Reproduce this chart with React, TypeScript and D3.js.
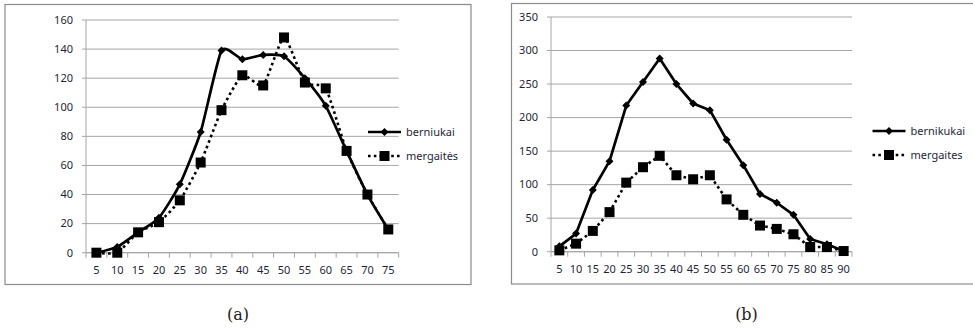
import React from "react";
import * as d3 from "d3";

// Chart (a)
const categoriesA = ["5","10","15","20","25","30","35","40","45","50","55","60","65","70","75"];
const boysA = [0, 4, 14, 24, 47, 83, 139, 133, 136, 135, 120, 101, 70, 40, 16];
const girlsA = [0, 0, 14, 21, 36, 62, 98, 122, 115, 148, 117, 113, 70, 40, 16];
const yTicksA = [0, 20, 40, 60, 80, 100, 120, 140, 160];
const legendA = ["berniukai", "mergaitės"];

// Chart (b)
const categoriesB = ["5","10","15","20","25","30","35","40","45","50","55","60","65","70","75","80","85","90"];
const boysB = [8, 27, 92, 135, 218, 253, 288, 250, 221, 211, 167, 129, 86, 73, 55, 19, 11, 1];
const girlsB = [2, 12, 31, 59, 103, 126, 143, 114, 108, 114, 78, 55, 39, 34, 26, 7, 7, 1];
const yTicksB = [0, 50, 100, 150, 200, 250, 300, 350];
const legendB = ["bernikukai", "mergaites"];

const TEXT = "#1f1f3a";
const GRID = "#a6a6a6";
const FONT = "'Noto Sans', 'Open Sans', sans-serif";
const FS = 11;

type ChartProps = {
  frame: [number, number, number, number];
  plot: { left: number; right: number; top: number; bottom: number };
  categories: string[];
  boys: number[];
  girls: number[];
  yTicks: number[];
  legend: string[];
  legendX: number;
  legendY: [number, number];
  smooth: boolean;
  caption: string;
  captionX: number;
};

function Chart(p: ChartProps) {
  const x = d3.scaleBand().domain(p.categories).range([p.plot.left, p.plot.right]).padding(0);
  const yMax = p.yTicks[p.yTicks.length - 1];
  const y = d3.scaleLinear().domain([0, yMax]).range([p.plot.bottom, p.plot.top]);
  const cx = (c: string) => (x(c) as number) + x.bandwidth() / 2;
  const curve = p.smooth ? d3.curveCardinal.tension(0.45) : d3.curveLinear;
  const line = d3
    .line<number>()
    .x((_, i) => cx(p.categories[i]))
    .y((d) => y(d))
    .curve(curve);
  const boundaries = p.categories.map((c) => x(c) as number).concat([p.plot.right]);
  const [fx, fy, fw, fh] = p.frame;
  const diamond = (px: number, py: number, r: number) =>
    `M${px},${py - r}L${px + r},${py}L${px},${py + r}L${px - r},${py}Z`;
  return (
    <g>
      <rect x={fx} y={fy} width={fw} height={fh} fill="#fff" stroke="#8c8c8c" strokeWidth={1.2} />
      {p.yTicks.map((t) => (
        <g key={t}>
          <line x1={p.plot.left - 4} x2={p.plot.right} y1={y(t)} y2={y(t)} stroke={GRID} strokeWidth={1} />
          <text x={p.plot.left - 13} y={y(t)} dy="0.35em" textAnchor="end" fontSize={FS} fill={TEXT} fontFamily={FONT}>
            {t}
          </text>
        </g>
      ))}
      <line x1={p.plot.left} x2={p.plot.left} y1={p.plot.top} y2={p.plot.bottom} stroke={GRID} strokeWidth={1} />
      <line x1={p.plot.left} x2={p.plot.right} y1={p.plot.bottom} y2={p.plot.bottom} stroke={GRID} strokeWidth={1} />
      {boundaries.map((b, i) => (
        <line key={i} x1={b} x2={b} y1={p.plot.bottom} y2={p.plot.bottom + 5} stroke={GRID} strokeWidth={1} />
      ))}
      {p.categories.map((c) => (
        <text key={c} x={cx(c)} y={p.plot.bottom + 17} dy="0.35em" textAnchor="middle" fontSize={FS} fill={TEXT} fontFamily={FONT}>
          {c}
        </text>
      ))}
      <path d={line(p.girls) || ""} fill="none" stroke="#000" strokeWidth={2.6} strokeDasharray="2.6 3.2" />
      <path d={line(p.boys) || ""} fill="none" stroke="#000" strokeWidth={2.7} strokeLinejoin="round" />
      {p.girls.map((v, i) => (
        <rect key={"g" + i} x={cx(p.categories[i]) - 5} y={y(v) - 5} width={10} height={10} fill="#000" />
      ))}
      {p.boys.map((v, i) => (
        <path key={"b" + i} d={diamond(cx(p.categories[i]), y(v), 4)} fill="#000" />
      ))}
      {/* legend */}
      <line x1={p.legendX} x2={p.legendX + 33} y1={p.legendY[0]} y2={p.legendY[0]} stroke="#000" strokeWidth={2.7} />
      <path d={diamond(p.legendX + 16.5, p.legendY[0], 4)} fill="#000" />
      <text x={p.legendX + 38} y={p.legendY[0]} dy="0.35em" fontSize={FS} fill={TEXT} fontFamily={FONT}>
        {p.legend[0]}
      </text>
      <line x1={p.legendX} x2={p.legendX + 33} y1={p.legendY[1]} y2={p.legendY[1]} stroke="#000" strokeWidth={2.6} strokeDasharray="2.6 3.2" />
      <rect x={p.legendX + 11.5} y={p.legendY[1] - 5} width={10} height={10} fill="#000" />
      <text x={p.legendX + 38} y={p.legendY[1]} dy="0.35em" fontSize={FS} fill={TEXT} fontFamily={FONT}>
        {p.legend[1]}
      </text>
      <text x={p.captionX} y={320} textAnchor="middle" fontSize={16} fill="#222" fontFamily="'DejaVu Serif', 'Liberation Serif', serif">
        {p.caption}
      </text>
    </g>
  );
}

export default function App() {
  return (
    <svg width={973} height={330} style={{ position: "absolute", left: 0, top: 0, background: "#fff" }}>
      <Chart
        frame={[5, 4.5, 466, 280]}
        plot={{ left: 86, right: 398.7, top: 20, bottom: 252.7 }}
        categories={categoriesA}
        boys={boysA}
        girls={girlsA}
        yTicks={yTicksA}
        legend={legendA}
        legendX={368}
        legendY={[132, 156]}
        smooth={true}
        caption="(a)"
        captionX={238}
      />
      <Chart
        frame={[511.5, 3.5, 470, 280.5]}
        plot={{ left: 551, right: 852, top: 17, bottom: 251.7 }}
        categories={categoriesB}
        boys={boysB}
        girls={girlsB}
        yTicks={yTicksB}
        legend={legendB}
        legendX={872.5}
        legendY={[131, 155]}
        smooth={false}
        caption="(b)"
        captionX={746.5}
      />
    </svg>
  );
}
